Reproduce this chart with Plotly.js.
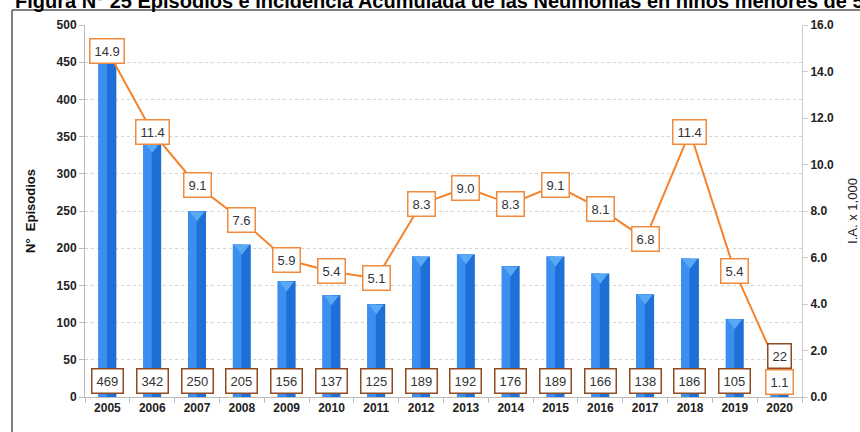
<!DOCTYPE html>
<html>
<head>
<meta charset="utf-8">
<script src="https://cdn.plot.ly/plotly-3.0.1.min.js"></script>
<style>html,body{margin:0;padding:0;background:#fff;}#chart{width:860px;height:432px;}</style>
</head>
<body>
<div id="chart"></div>
<script>
const years = ['2005','2006','2007','2008','2009','2010','2011','2012','2013','2014','2015','2016','2017','2018','2019','2020'];
const episodios = [469,342,250,205,156,137,125,189,192,176,189,166,138,186,105,22];
const incidencia = [14.9,11.4,9.1,7.6,5.9,5.4,5.1,8.3,9.0,8.3,9.1,8.1,6.8,11.4,5.4,1.1];
const titleText = 'Figura N° 25 Episodios e Incidencia Acumulada de las Neumonías en niños menores de 5 años';

const font = 'Liberation Sans, Arial, sans-serif';

const traces = [
  {type:'bar', x:years, y:episodios, width:0.4, offset:-0.2,
   marker:{color:'#1f70d6', line:{width:0}}, hoverinfo:'skip', showlegend:false},
  {type:'bar', x:years, y:episodios, width:0.19, offset:-0.2,
   marker:{color:'#3a8ff0', line:{width:0}}, hoverinfo:'skip', showlegend:false},
  {type:'scatter', mode:'markers', x:years, y:episodios.map(v => Math.max(v - 5, 0)),
   marker:{symbol:'triangle-down', size:13, color:'#5aa9f7', line:{width:0}},
   hoverinfo:'skip', showlegend:false},
  {type:'scatter', mode:'lines', x:years, y:incidencia, yaxis:'y2',
   line:{color:'#f5822a', width:2}, hoverinfo:'skip', showlegend:false}
];

const annotations = [];
years.forEach((yr, i) => {
  const last = i === years.length - 1;
  annotations.push({
    x: i, y: incidencia[i], xref:'x', yref:'y2', text: incidencia[i].toFixed(1),
    showarrow:false, bgcolor:'#ffffff', bordercolor:'#f08a3c', borderwidth:1.5, borderpad:4,
    font:{family:font, size:13, color:'#333'}, yshift: last ? -11 : 0
  });
  annotations.push({
    x: i, y: 21.5, xref:'x', yref:'y', text: String(episodios[i]),
    showarrow:false, bgcolor:'#ffffff', bordercolor:'#8f4a22', borderwidth:1.5, borderpad:4,
    font:{family:font, size:13, color:'#333'}, yshift: last ? 25 : 0
  });
});
annotations.push({
  text: titleText, xref:'paper', yref:'paper', x:-0.1004, y:1.0, xanchor:'left', yanchor:'bottom',
  yshift: 11, showarrow:false, font:{family:font, size:20, color:'#000', weight:'bold'}
});

const layout = {
  width:860, height:432,
  margin:{l:85, r:58, t:25, b:35},
  paper_bgcolor:'#fff', plot_bgcolor:'#fff',
  barmode:'overlay',
  font:{family:font},
  xaxis:{type:'category', range:[-0.5,15.5], showgrid:false, showline:true, linecolor:'#bbbbbb',
         ticks:'outside', tickson:'boundaries', ticklen:5, tickcolor:'#bbbbbb',
         tickfont:{family:font, size:12, color:'#222', weight:'bold'}, fixedrange:true},
  yaxis:{range:[0,500], dtick:50, showgrid:true, gridcolor:'#d4d4d4', griddash:'dot', gridwidth:1,
         showline:true, linecolor:'#bbbbbb', ticks:'outside', ticklen:5, tickcolor:'#bbbbbb',
         zeroline:false,
         tickfont:{family:font, size:12, color:'#222', weight:'bold'},
         title:{text:'N°  Episodios', font:{family:font, size:13, color:'#111', weight:'bold'}, standoff:18}},
  yaxis2:{range:[0,16], dtick:2, tickformat:'.1f', overlaying:'y', side:'right', showgrid:false,
          showline:true, linecolor:'#cccccc', ticks:'outside', ticklen:5, tickcolor:'#cccccc',
          zeroline:false,
          tickfont:{family:font, size:12, color:'#222', weight:'bold'},
          title:{text:'I.A. x 1,000', font:{family:font, size:13, color:'#222'}, standoff:20}},
  shapes:[
    {type:'line', xref:'paper', yref:'paper', x0:-0.1018, x1:1.2, y0:1.0403, y1:1.0403,
     line:{color:'#555', width:1.5}},
    {type:'line', xref:'paper', yref:'paper', x0:-0.1018, x1:-0.1018, y0:1.0403, y1:-0.2,
     line:{color:'#555', width:1.5}}
  ],
  annotations: annotations
};

Plotly.newPlot('chart', traces, layout, {displayModeBar:false, staticPlot:true});
</script>
</body>
</html>
